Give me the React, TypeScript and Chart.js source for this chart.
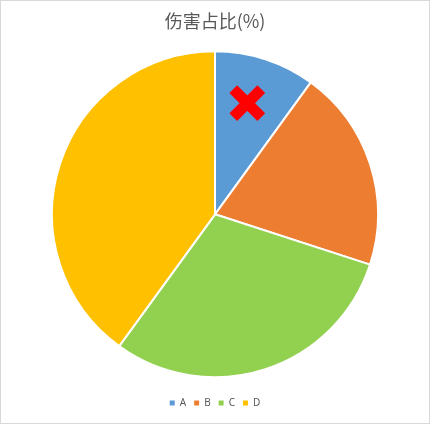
import { useEffect, useRef } from "react"
import { Chart, registerables } from "chart.js"

Chart.register(...registerables)

const labels = ["A", "B", "C", "D"]
const values = [10, 20, 30, 40]
const colors = ["#5B9BD5", "#ED7D31", "#92D050", "#FFC000"]
const title = "伤害占比(%)"

// red cross marker drawn on top of slice A
const crossMarker = {
  id: "crossMarker",
  afterDatasetsDraw(chart: Chart) {
    const arc: any = chart.getDatasetMeta(0).data[0]
    if (!arc) return
    const { x, y, startAngle, endAngle, outerRadius } = arc.getProps(["x", "y", "startAngle", "endAngle", "outerRadius"], true)
    const a = startAngle + (endAngle - startAngle) * 0.45
    const r = outerRadius * 0.71
    const cx = x + Math.cos(a) * r
    const cy = y + Math.sin(a) * r
    const ctx = chart.ctx
    const d = 14
    ctx.save()
    ctx.strokeStyle = "#FF0000"
    ctx.lineWidth = 11
    ctx.lineCap = "butt"
    ctx.beginPath()
    ctx.moveTo(cx - d, cy - d)
    ctx.lineTo(cx + d, cy + d)
    ctx.moveTo(cx + d, cy - d)
    ctx.lineTo(cx - d, cy + d)
    ctx.stroke()
    ctx.restore()
  },
}

export default function App() {
  const chartRef = useRef<HTMLCanvasElement>(null)
  const chartInstance = useRef<Chart | null>(null)

  useEffect(() => {
    if (!chartRef.current) return
    if (chartInstance.current) chartInstance.current.destroy()

    const ctx = chartRef.current.getContext("2d")
    if (!ctx) return

    const defaultLabels = (Chart as any).overrides.pie.plugins.legend.labels.generateLabels

    chartInstance.current = new Chart(ctx, {
      type: "pie",
      data: {
        labels,
        datasets: [
          {
            data: values,
            backgroundColor: colors,
            borderColor: "#FFFFFF",
            borderWidth: 2,
            radius: 163,
          },
        ],
      },
      options: {
        responsive: true,
        maintainAspectRatio: false,
        animation: false,
        layout: { padding: { bottom: 5 } },
        plugins: {
          title: {
            display: true,
            text: title,
            color: "#595959",
            font: { family: "'Noto Sans CJK SC', 'Noto Sans', sans-serif", size: 18, weight: "normal" },
            padding: { top: 9, bottom: 7 },
          },
          legend: {
            position: "bottom",
            labels: {
              boxWidth: 5,
              boxHeight: 5,
              padding: 8,
              color: "#595959",
              font: { family: "'Noto Sans', sans-serif", size: 10 },
              generateLabels: (chart: Chart) =>
                defaultLabels(chart).map((item: any) => ({ ...item, lineWidth: 0, strokeStyle: item.fillStyle })),
            },
          },
          tooltip: { enabled: false },
        },
      },
      plugins: [crossMarker],
    })

    return () => {
      if (chartInstance.current) {
        chartInstance.current.destroy()
        chartInstance.current = null
      }
    }
  }, [])

  return (
    <div
      style={{
        position: "fixed",
        left: 0,
        top: 0,
        width: 430,
        height: 424,
        boxSizing: "border-box",
        border: "1px solid #D9D9D9",
        background: "#FFFFFF",
      }}
    >
      <canvas ref={chartRef} />
    </div>
  )
}
